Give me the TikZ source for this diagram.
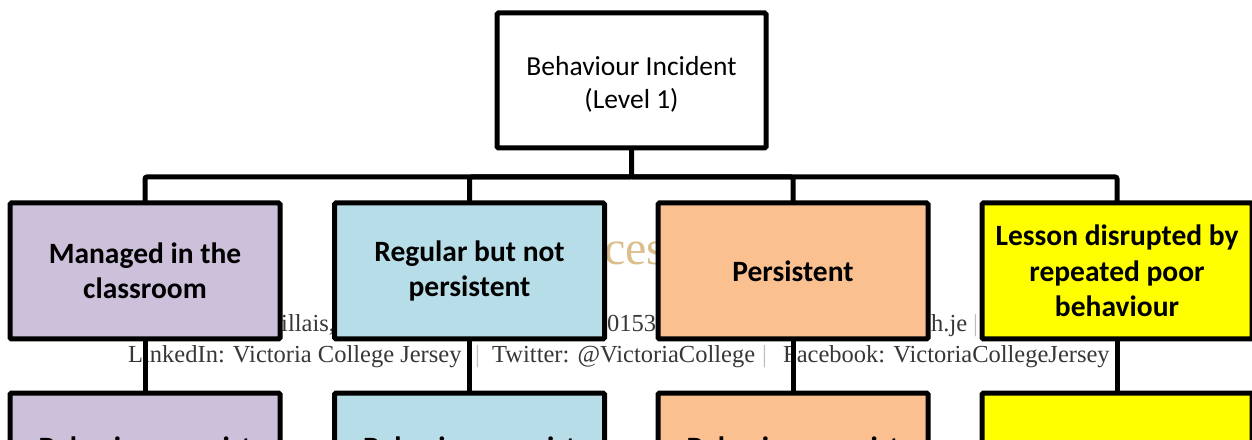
\documentclass[tikz,border=0pt]{standalone}
\usepackage{fontspec}
\setmainfont{Carlito}
\newfontfamily\lhfont{Liberation Serif}
\definecolor{lav}{RGB}{204,192,218}
\definecolor{lblue}{RGB}{183,222,232}
\definecolor{peach}{RGB}{250,192,144}
\definecolor{yel}{RGB}{255,255,0}
\definecolor{lhgray}{RGB}{55,55,55}
\definecolor{sepgray}{RGB}{190,190,190}
\definecolor{tan}{RGB}{218,190,140}
\begin{document}
\begin{tikzpicture}[x=1pt,y=1pt,
  box/.style={draw=black, line width=5pt, rounded corners=1.5pt, minimum width=270pt, minimum height=136pt,
    inner sep=4pt, outer sep=0pt, align=center, font=\fontsize{29.5}{35.5}\selectfont\bfseries},
  conn/.style={draw=black, line width=5pt, rounded corners=2pt},
  lh/.style={inner sep=0pt, anchor=base west, text=lhgray, font=\lhfont\fontsize{24.5}{28}\selectfont},
  sep/.style={inner sep=0pt, anchor=base west, text=sepgray, font=\lhfont\fontsize{24.5}{28}\selectfont},
  lowtext/.style={inner sep=0pt, anchor=base, font=\fontsize{29.5}{35.5}\selectfont\bfseries}
]
\useasboundingbox (0,0) rectangle (1252,439);
\clip (0,0) rectangle (1252,439);
\fill[white] (0,0) rectangle (1252,439);

% letterhead text behind the chart
\node[inner sep=0pt, anchor=base west, text=tan, font=\lhfont\fontsize{48}{52}\selectfont] (ces) at (604,174) {ces};
\node[lh] (l1a) at (281,107) {illais,};
\node[lh] (l1b) at (607,107) {01534};
\node[lh] (l1c) at (931,107) {h.je};
\node[sep] (l1d) at (973,107) {|};
\node[lh] (l2a) at (128,76) {LinkedIn: Victoria College Jersey};
\node[sep] (l2b) at (475,76) {|};
\node[lh] (l2c) at (492,76) {Twitter: @VictoriaCollege};
\node[sep] (l2d) at (762,76) {|};
\node[lh] (l2e) at (783,76) {Facebook: VictoriaCollegeJersey};

% boxes
\node[box, fill=white, minimum width=269pt, minimum height=135pt] (top) at (631.5,358.5) {};
\node[inner sep=0pt, align=center, font=\fontsize{27.5}{33}\selectfont] (toptext) at (631.5,354.5)
  {Behaviour Incident\\(Level 1)};
\node[box, fill=lav] (b1) at (145,168) {Managed in the\\classroom};
\node[box, fill=lblue] (b2) at (469.5,168) {Regular but not\\persistent};
\node[box, fill=peach] (b3) at (793,168) {Persistent};
\node[box, fill=yel] (b4) at (1117,168) {Lesson disrupted by\\repeated poor\\behaviour};

\node[box, fill=lav] (c1) at (145,-22) {};
\node[box, fill=lblue] (c2) at (469.5,-22) {};
\node[box, fill=peach] (c3) at (793,-22) {};
\node[box, fill=yel] (c4) at (1117,-22) {};
\node[lowtext] (t1) at (145,-18) {Behaviour persist};
\node[lowtext] (t2) at (469.5,-18) {Behaviour persist};
\node[lowtext] (t3) at (793,-18) {Behaviour persist};

% connectors
\coordinate (hub) at (631.5,262);
\draw[conn] (top.south) -- (hub) -| (b1.north);
\draw[conn] (hub) -| (b2.north);
\draw[conn] (hub) -| (b3.north);
\draw[conn] (hub) -| (b4.north);
\draw[conn] (b1.south) -- (c1.north);
\draw[conn] (b2.south) -- (c2.north);
\draw[conn] (b3.south) -- (c3.north);
\draw[conn] (b4.south) -- (c4.north);
\end{tikzpicture}
\end{document}
